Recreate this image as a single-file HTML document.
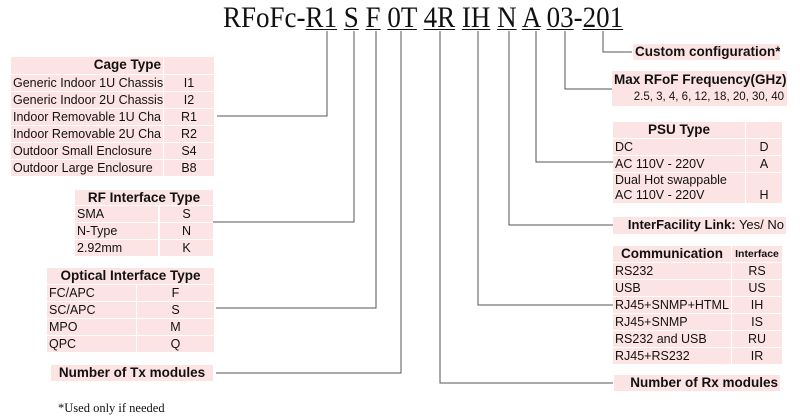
<!DOCTYPE html>
<html><head><meta charset="utf-8"><style>
body{margin:0;width:800px;height:420px;background:#fff;position:relative;overflow:hidden;font-family:"Liberation Sans",sans-serif;color:#111}
.t{position:absolute;left:223px;top:3px;font-family:"Liberation Serif",serif;font-size:30px;line-height:30px;white-space:pre;transform:scaleX(0.9);transform-origin:0 0}
.t span{text-decoration:underline;text-decoration-thickness:1px;text-underline-offset:2px}
.c{position:absolute;background:#fde4e4;font-size:12.5px;line-height:16px;box-sizing:border-box;padding:0 2px;white-space:nowrap;overflow:hidden}
.b{font-weight:bold;font-size:13.5px}
.ctr{text-align:center}.r{text-align:right}
svg{position:absolute;left:0;top:0}
</style></head><body>
<div class="t">RFoFc-<span>R1</span> <span>S</span> <span>F</span> <span>0T</span> <span>4R</span> <span>IH</span> <span>N</span> <span>A</span> <span>03</span>-<span>201</span></div>

<svg width="800" height="420"><g fill="none" stroke="#555" stroke-width="1">
<polyline points="327,31 327,116 217,116"/>
<polyline points="354,31 354,222 213,222"/>
<polyline points="376,31 376,308 216,308"/>
<polyline points="401,31 401,373 216,373"/>
<polyline points="440,31 440,383 613,383"/>
<polyline points="478,31 478,305 613,305"/>
<polyline points="509,31 509,225 613,225"/>
<polyline points="536,31 536,162 613,162"/>
<polyline points="565,31 565,89 612,89"/>
<polyline points="603,31 603,52 632,52"/>
</g></svg>

<!-- Cage -->
<div class="c b r" style="left:11px;top:57px;width:152px;height:17px">Cage Type</div>
<div class="c" style="left:164px;top:57px;width:50px;height:17px"></div>
<div class="c" style="left:11px;top:75px;width:152px;height:16px">Generic Indoor 1U Chassis</div><div class="c ctr" style="left:164px;top:75px;width:50px;height:16px">I1</div>
<div class="c" style="left:11px;top:92px;width:152px;height:16px">Generic Indoor 2U Chassis</div><div class="c ctr" style="left:164px;top:92px;width:50px;height:16px">I2</div>
<div class="c" style="left:11px;top:109px;width:152px;height:16px">Indoor Removable 1U Cha</div><div class="c ctr" style="left:164px;top:109px;width:50px;height:16px">R1</div>
<div class="c" style="left:11px;top:126px;width:152px;height:16px">Indoor Removable 2U Cha</div><div class="c ctr" style="left:164px;top:126px;width:50px;height:16px">R2</div>
<div class="c" style="left:11px;top:143px;width:152px;height:16px">Outdoor Small Enclosure</div><div class="c ctr" style="left:164px;top:143px;width:50px;height:16px">S4</div>
<div class="c" style="left:11px;top:160px;width:152px;height:16px">Outdoor Large Enclosure</div><div class="c ctr" style="left:164px;top:160px;width:50px;height:16px">B8</div>

<!-- RF -->
<div class="c b ctr" style="left:75px;top:190px;width:138px;height:15px;line-height:15px">RF Interface Type</div>
<div class="c" style="left:75px;top:206px;width:83px;height:16px">SMA</div><div class="c ctr" style="left:160px;top:206px;width:53px;height:16px">S</div>
<div class="c" style="left:75px;top:223px;width:83px;height:16px">N-Type</div><div class="c ctr" style="left:160px;top:223px;width:53px;height:16px">N</div>
<div class="c" style="left:75px;top:240px;width:83px;height:16px">2.92mm</div><div class="c ctr" style="left:160px;top:240px;width:53px;height:16px">K</div>

<!-- Optical -->
<div class="c b ctr" style="left:47px;top:268px;width:167px;height:16px">Optical Interface Type</div>
<div class="c" style="left:47px;top:285px;width:89px;height:16px">FC/APC</div><div class="c ctr" style="left:137px;top:285px;width:77px;height:16px">F</div>
<div class="c" style="left:47px;top:302px;width:89px;height:16px">SC/APC</div><div class="c ctr" style="left:137px;top:302px;width:77px;height:16px">S</div>
<div class="c" style="left:47px;top:319px;width:89px;height:16px">MPO</div><div class="c ctr" style="left:137px;top:319px;width:77px;height:16px">M</div>
<div class="c" style="left:47px;top:336px;width:89px;height:16px">QPC</div><div class="c ctr" style="left:137px;top:336px;width:77px;height:16px">Q</div>

<div class="c b ctr" style="left:51px;top:365px;width:162px;height:16px">Number of Tx modules</div>
<div style="position:absolute;left:58px;top:401px;font-family:'Liberation Serif',serif;font-size:12.5px">*Used only if needed</div>

<!-- Right -->
<div class="c b r" style="left:633px;top:44px;width:147px;height:16px">Custom configuration*</div>
<div class="c r" style="left:612px;top:71px;width:175px;height:35px;padding-right:3px"><div class="b" style="line-height:18px">Max RFoF Frequency(GHz)</div><div style="font-size:11.5px;line-height:16px">2.5, 3, 4, 6, 12, 18, 20, 30, 40</div></div>

<div class="c b ctr" style="left:613px;top:122px;width:132px;height:16px">PSU Type</div><div class="c" style="left:746px;top:122px;width:36px;height:16px"></div>
<div class="c" style="left:613px;top:139px;width:132px;height:16px">DC</div><div class="c ctr" style="left:746px;top:139px;width:36px;height:16px">D</div>
<div class="c" style="left:613px;top:156px;width:132px;height:16px">AC 110V - 220V</div><div class="c ctr" style="left:746px;top:156px;width:36px;height:16px">A</div>
<div class="c" style="left:613px;top:173px;width:132px;height:30px;line-height:15px">Dual Hot swappable<br>AC 110V - 220V</div><div class="c ctr" style="left:746px;top:173px;width:36px;height:30px;line-height:15px"><br>H</div>

<div class="c r" style="left:613px;top:217px;width:173px;height:17px;font-size:13px"><b>InterFacility Link:</b> Yes/ No</div>

<div class="c b ctr" style="left:613px;top:246px;width:118px;height:16px">Communication</div><div class="c b ctr" style="left:732px;top:246px;width:50px;height:16px;font-size:10.5px">Interface</div>
<div class="c" style="left:613px;top:263px;width:118px;height:16px">RS232</div><div class="c ctr" style="left:732px;top:263px;width:50px;height:16px">RS</div>
<div class="c" style="left:613px;top:280px;width:118px;height:16px">USB</div><div class="c ctr" style="left:732px;top:280px;width:50px;height:16px">US</div>
<div class="c" style="left:613px;top:297px;width:118px;height:16px">RJ45+SNMP+HTML</div><div class="c ctr" style="left:732px;top:297px;width:50px;height:16px">IH</div>
<div class="c" style="left:613px;top:314px;width:118px;height:16px">RJ45+SNMP</div><div class="c ctr" style="left:732px;top:314px;width:50px;height:16px">IS</div>
<div class="c" style="left:613px;top:331px;width:118px;height:16px">RS232 and USB</div><div class="c ctr" style="left:732px;top:331px;width:50px;height:16px">RU</div>
<div class="c" style="left:613px;top:348px;width:118px;height:16px">RJ45+RS232</div><div class="c ctr" style="left:732px;top:348px;width:50px;height:16px">IR</div>

<div class="c b r" style="left:614px;top:375px;width:166px;height:16px">Number of Rx modules</div>
</body></html>
